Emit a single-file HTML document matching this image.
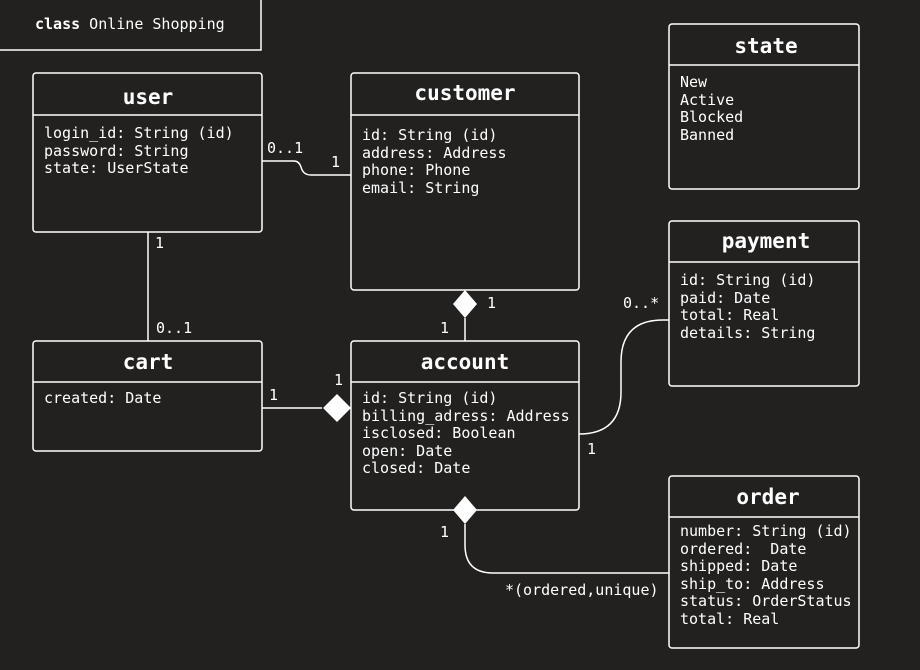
<!DOCTYPE html>
<html><head><meta charset="utf-8"><style>
html,body{margin:0;padding:0;background:#222120;}
svg{display:block}
text{font-family:"DejaVu Sans Mono","Liberation Mono",monospace;fill:#fff;font-size:15px;white-space:pre}
.t{font-family:"DejaVu Sans Mono","Liberation Mono",monospace;font-weight:bold;font-size:21px;text-anchor:middle}
rect{fill:#222120;stroke:#fff;stroke-width:1.5}
.l{fill:none;stroke:#fff;stroke-width:1.5}
</style></head><body>
<svg width="920" height="670" viewBox="0 0 920 670">
<rect x="-2" y="-2" width="263" height="52" rx="0"/>
<text x="35" y="29"><tspan font-weight="bold">class</tspan> Online Shopping</text>

<path class="l" d="M262 161 H294 Q299 161 301 167 Q303 175 311 175 H351"/>
<path class="l" d="M148 232 V341"/>
<path class="l" d="M465 318 V341"/>
<path class="l" d="M262 408 H322"/>
<path class="l" d="M579 434 Q621 434 621 392 V362 Q621 320 663 320 H669"/>
<path class="l" d="M465 524 V545 Q465 573 493 573 H669"/>
<polygon points="465,290 477,304 465,318 453,304" fill="#fff"/>
<polygon points="337,394 351,408 337,422 323,408" fill="#fff"/>

<rect x="33" y="73" width="229" height="159" rx="3"/>
<line class="l" x1="33" y1="115" x2="262" y2="115"/>
<text class="t" x="148" y="104">user</text>
<text x="44" y="138">login_id: String (id)</text>
<text x="44" y="156">password: String</text>
<text x="44" y="173">state: UserState</text>

<rect x="351" y="73" width="228" height="217" rx="3"/>
<line class="l" x1="351" y1="115" x2="579" y2="115"/>
<text class="t" x="465" y="100">customer</text>
<text x="362" y="140">id: String (id)</text>
<text x="362" y="158">address: Address</text>
<text x="362" y="175">phone: Phone</text>
<text x="362" y="193">email: String</text>

<rect x="669" y="24" width="190" height="165" rx="3"/>
<line class="l" x1="669" y1="65" x2="859" y2="65"/>
<text class="t" x="766" y="53">state</text>
<text x="680" y="87">New</text>
<text x="680" y="105">Active</text>
<text x="680" y="122">Blocked</text>
<text x="680" y="140">Banned</text>

<rect x="669" y="221" width="190" height="165" rx="3"/>
<line class="l" x1="669" y1="262" x2="859" y2="262"/>
<text class="t" x="766" y="248">payment</text>
<text x="680" y="285">id: String (id)</text>
<text x="680" y="303">paid: Date</text>
<text x="680" y="320">total: Real</text>
<text x="680" y="338">details: String</text>

<rect x="33" y="341" width="229" height="110" rx="3"/>
<line class="l" x1="33" y1="382" x2="262" y2="382"/>
<text class="t" x="148" y="369">cart</text>
<text x="44" y="403">created: Date</text>

<rect x="351" y="341" width="228" height="169" rx="3"/>
<line class="l" x1="351" y1="382" x2="579" y2="382"/>
<text class="t" x="465" y="369">account</text>
<text x="362" y="403">id: String (id)</text>
<text x="362" y="421">billing_adress: Address</text>
<text x="362" y="438">isclosed: Boolean</text>
<text x="362" y="456">open: Date</text>
<text x="362" y="473">closed: Date</text>
<polygon points="465,496 477,510 465,524 453,510" fill="#fff"/>

<rect x="669" y="476" width="190" height="172" rx="3"/>
<line class="l" x1="669" y1="517" x2="859" y2="517"/>
<text class="t" x="768" y="504">order</text>
<text x="680" y="536">number: String (id)</text>
<text x="680" y="554">ordered:&#160; Date</text>
<text x="680" y="571">shipped: Date</text>
<text x="680" y="589">ship_to: Address</text>
<text x="680" y="606">status: OrderStatus</text>
<text x="680" y="624">total: Real</text>

<text x="267" y="153">0..1</text>
<text x="331" y="167">1</text>
<text x="155" y="248">1</text>
<text x="156" y="333">0..1</text>
<text x="487" y="308">1</text>
<text x="440" y="333">1</text>
<text x="269" y="400">1</text>
<text x="334" y="385">1</text>
<text x="623" y="308">0..*</text>
<text x="587" y="454">1</text>
<text x="440" y="537">1</text>
<text x="505" y="595">*(ordered,unique)</text>
</svg>
</body></html>
